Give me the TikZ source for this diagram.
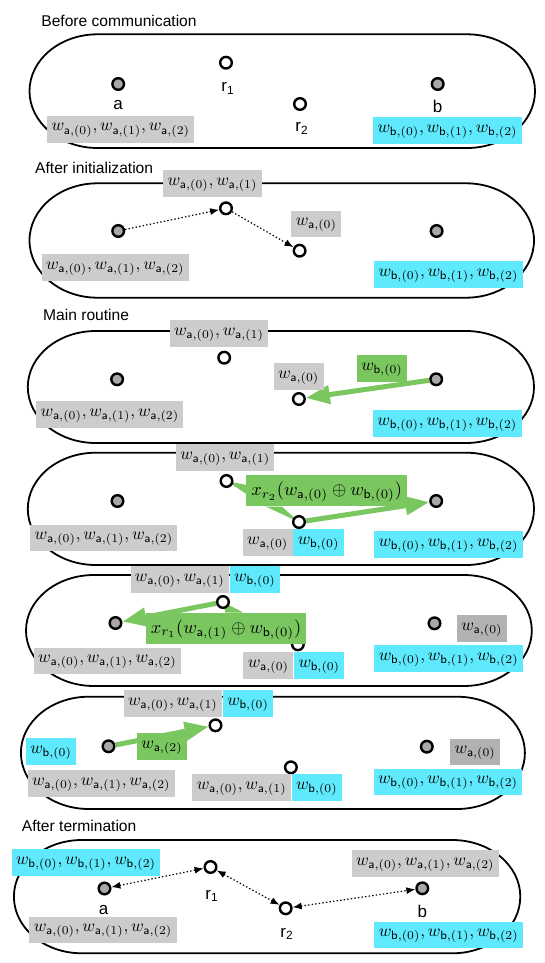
\documentclass[tikz,border=0pt]{standalone}
\usepackage{graphicx}
\usepackage{fontspec}
\newfontfamily\helv{Liberation Sans}
\usetikzlibrary{arrows.meta,calc}
\definecolor{bgray}{RGB}{204,204,204}
\definecolor{dgray}{RGB}{178,178,178}
\definecolor{bcyan}{RGB}{94,234,252}
\definecolor{bgreen}{RGB}{122,199,96}
\definecolor{ngray}{RGB}{168,168,168}
\newcommand\wa[1]{w_{\mathsf{a},(#1)}}
\newcommand\wb[1]{w_{\mathsf{b},(#1)}}
\newcommand\mth[1]{\scalebox{0.86}{$#1$}}
\newcommand\mtb[1]{\scalebox{0.92}{$#1$}}
\pgfdeclarelayer{bg}
\pgfsetlayers{bg,main}
\begin{document}
\begin{tikzpicture}[x=0.5pt,y=-0.5pt,
  panel/.style={draw, line width=0.9pt},
  dev/.style={circle, draw, line width=1.2pt, fill=ngray, minimum size=5.8pt, inner sep=0pt},
  rel/.style={dev, fill=white},
  lab/.style={font=\helv\fontsize{8.5}{10}\selectfont, inner sep=0pt},
  ttl/.style={font=\helv\fontsize{7.8}{9}\selectfont, inner sep=0pt, anchor=west},
  bx/.style={inner xsep=2.2pt, inner ysep=0pt, text height=4.6pt, text depth=2.8pt, minimum height=13.4pt},
  gb/.style={bx, fill=bgray},
  cb/.style={bx, fill=bcyan},
  db/.style={bx, fill=dgray},
  grb/.style={bx, fill=bgreen},
  big/.style={fill=bgreen, inner xsep=2.5pt, inner ysep=0pt, text height=7pt, text depth=2.4pt, minimum height=15.5pt},
  dotar/.style={line width=0.6pt, dash pattern=on 0.7pt off 1.1pt, -{Latex[length=4.5pt,width=3.5pt]}},
  dotdbl/.style={line width=0.6pt, dash pattern=on 0.7pt off 1.1pt, {Latex[length=4.5pt,width=3.5pt]}-{Latex[length=4.5pt,width=3.5pt]}},
  garr/.style={draw=bgreen, line width=2.5pt, -{Triangle[length=12pt,width=9pt]}},
]
\useasboundingbox (0,0) rectangle (545,963);
% panel outlines
\foreach \L/\R/\T/\B in {29.5/535/34.3/148, 29.5/534/183.3/297.7, 27.8/534/331/443, 27.8/534/452.7/565, 26/531.8/575/686, 20.9/524.9/696.7/809, 13.9/520.3/840/953.3}{
  \pgfmathsetmacro\ry{(\B-\T)/4}
  \draw[panel] (\L+68,\T) -- (\R-68,\T) arc[start angle=90,end angle=-90,x radius=34pt,y radius=\ry pt] -- (\L+68,\B) arc[start angle=270,end angle=90,x radius=34pt,y radius=\ry pt] -- cycle;
}
% ---------- panel 1
\node[ttl] (t1) at (41,20.7) {Before communication};
\node[dev] (a1) at (118.2,84) {};
\node[rel] (r11) at (226,62.7) {};
\node[rel] (r21) at (300,104) {};
\node[dev] (b1) at (437.7,84) {};
\node[lab] (la1) at (118.2,105) {a};
\node[lab] (lr11) at (228,88.3) {r\textsubscript{1}};
\node[lab] (lr21) at (302,128.3) {r\textsubscript{2}};
\node[lab] (lb1) at (437.7,106) {b};
\node[gb] (ga1) at (120.7,129.2) {\mth{\wa0, \wa1, \wa2}};
\node[cb] (cb1) at (447.5,130.7) {\mth{\wb0, \wb1, \wb2}};
% ---------- panel 2
\node[ttl] (t2) at (34.8,168.3) {After initialization};
\node[dev] (a2) at (118.2,231) {};
\node[rel] (r12) at (226,208.3) {};
\node[rel] (r22) at (299.6,250.7) {};
\node[dev] (b2) at (436.6,231) {};
\draw[dotar] (a2) -- (r12);
\draw[dotar] (r12) -- (r22);
\node[gb] (g2t) at (212.5,183.3) {\mth{\wa0, \wa1}};
\node[gb] (g2m) at (316.3,224) {\mth{\wa0}};
\node[gb] (g2a) at (115.2,267.8) {\mth{\wa0, \wa1, \wa2}};
\node[cb] (c2b) at (448.4,274.3) {\mth{\wb0, \wb1, \wb2}};
% ---------- panel 3
\node[ttl] (t3) at (42.8,315) {Main routine};
\node[dev] (a3) at (117.1,379.3) {};
\node[rel] (r13) at (224.2,357.7) {};
\node[rel] (r23) at (298.9,399) {};
\node[dev] (b3) at (436.2,379.3) {};
\draw[garr] (b3) -- (r23);
\node[gb] (g3t) at (219,333.8) {\mth{\wa0, \wa1}};
\node[gb] (g3m) at (298.6,376.5) {\mth{\wa0}};
\node[grb] (gr3) at (382,368.7) {\mth{\wb0}};
\node[gb] (g3a) at (109.9,414.7) {\mth{\wa0, \wa1, \wa2}};
\node[cb] (c3b) at (447.3,423.8) {\mth{\wb0, \wb1, \wb2}};
% ---------- panel 4
\node[dev] (a4) at (117.5,501) {};
\node[rel] (r14) at (226.5,481) {};
\node[rel] (r24) at (299,522) {};
\node[dev] (b4) at (436.2,501) {};
\node[gb] (g4t) at (225.2,457.2) {\mth{\wa0, \wa1}};
\node[big] (g4) at (326.7,490.8) {\mtb{x_{r_2}(\wa0 \oplus \wb0)}};
\begin{pgfonlayer}{bg}
\fill[bgreen] (r14.center) -- ([yshift=-5pt]g4.north west) -- ([xshift=10pt]g4.south west) -- cycle;
\fill[bgreen] ([xshift=10pt]g4.south west) -- ([xshift=18pt]g4.south west) -- (r24.center) -- cycle;
\draw[garr] (r24) -- (b4);
\end{pgfonlayer}
\node[gb,anchor=east] (g4m) at (293,542.8) {\mth{\wa0}};
\node[cb,anchor=west] (c4m) at (293,542.8) {\mth{\wb0}};
\node[gb] (g4a) at (103.9,538) {\mth{\wa0, \wa1, \wa2}};
\node[cb] (c4b) at (448.4,544.2) {\mth{\wb0, \wb1, \wb2}};
% ---------- panel 5
\node[dev] (a5) at (115.5,623) {};
\node[rel] (r15) at (223,602) {};
\node[rel] (r25) at (297.9,644.3) {};
\node[dev] (b5) at (434.5,623.3) {};
\node[gb,anchor=east] (g5t) at (229.4,579.2) {\mth{\wa0, \wa1}};
\node[cb,anchor=west] (c5t) at (229.4,579.2) {\mth{\wb0}};
\node[big] (g5) at (226,628.5) {\mtb{x_{r_1}(\wa1 \oplus \wb0)}};
\begin{pgfonlayer}{bg}
\fill[bgreen] (r15.center) -- ([xshift=40pt]g5.north west) -- ([xshift=49pt]g5.north west) -- cycle;
\draw[garr] (r15) -- (a5);
\end{pgfonlayer}
\node[db] (d5) at (481.9,628.7) {\mth{\wa0}};
\node[gb,anchor=east] (g5m) at (293.7,665.2) {\mth{\wa0}};
\node[cb,anchor=west] (c5m) at (293.7,665.2) {\mth{\wb0}};
\node[gb] (g5a) at (107.4,661) {\mth{\wa0, \wa1, \wa2}};
\node[cb] (c5b) at (448.7,658.5) {\mth{\wb0, \wb1, \wb2}};
% ---------- panel 6
\node[dev] (a6) at (108.5,746.3) {};
\node[rel] (r16) at (215.5,725.3) {};
\node[rel] (r26) at (290.9,767.3) {};
\node[dev] (b6) at (426.8,746.7) {};
\draw[garr] (a6) -- (r16);
\node[gb,anchor=east] (g6t) at (222.5,703.8) {\mth{\wa0, \wa1}};
\node[cb,anchor=west] (c6t) at (222.5,703.8) {\mth{\wb0}};
\node[cb] (c6l) at (51.1,751.3) {\mth{\wb0}};
\node[grb] (gr6) at (162,746.7) {\mth{\wa2}};
\node[db] (d6) at (475.2,752) {\mth{\wa0}};
\node[gb,anchor=east] (g6m) at (291.3,787.5) {\mth{\wa0, \wa1}};
\node[cb,anchor=west] (c6m) at (291.3,787.5) {\mth{\wb0}};
\node[gb] (g6a) at (101.3,783.7) {\mth{\wa0, \wa1, \wa2}};
\node[cb] (c6b) at (448,782) {\mth{\wb0, \wb1, \wb2}};
% ---------- panel 7
\node[ttl] (t7) at (21.5,826) {After termination};
\node[dev] (a7) at (104.5,888.5) {};
\node[rel] (r17) at (210.5,867) {};
\node[rel] (r27) at (285.7,908.3) {};
\node[dev] (b7) at (422.3,888.3) {};
\draw[dotdbl] (a7) -- (r17);
\draw[dotdbl] (r17) -- (r27);
\draw[dotdbl] (r27) -- (b7);
\node[lab] (la7) at (103.6,910) {a};
\node[lab] (lr17) at (212,896) {r\textsubscript{1}};
\node[lab] (lr27) at (287,934) {r\textsubscript{2}};
\node[lab] (lb7) at (422.3,911.7) {b};
\node[cb] (c7t) at (86,862.5) {\mth{\wb0, \wb1, \wb2}};
\node[gb] (g7t) at (425.3,863.3) {\mth{\wa0, \wa1, \wa2}};
\node[gb] (g7a) at (103,930) {\mth{\wa0, \wa1, \wa2}};
\node[cb] (c7b) at (448.7,935) {\mth{\wb0, \wb1, \wb2}};
\end{tikzpicture}
\end{document}
